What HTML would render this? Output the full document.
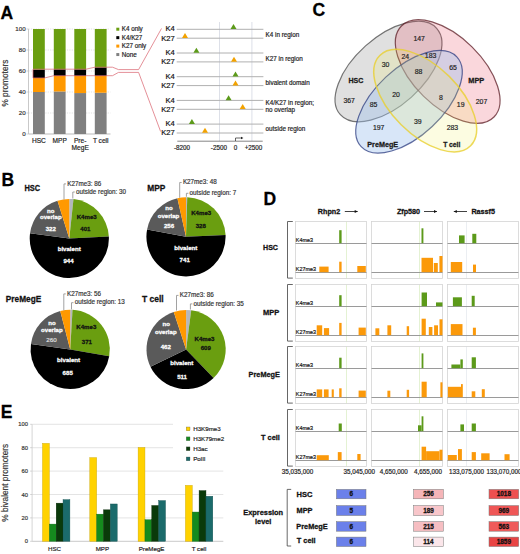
<!DOCTYPE html>
<html><head><meta charset="utf-8"><title>Figure</title>
<style>html,body{margin:0;padding:0;background:#fff;}body{width:520px;height:554px;overflow:hidden;font-family:"Liberation Sans",sans-serif;}svg{display:block;}</style>
</head><body>
<svg width="520" height="554" viewBox="0 0 520 554" font-family="Liberation Sans, sans-serif"><text x="0.60" y="18.60" font-size="17.5" text-anchor="start" font-weight="bold" fill="#000" stroke="#000" stroke-width="0.27" >A</text>
<text x="1.60" y="185.70" font-size="17.5" text-anchor="start" font-weight="bold" fill="#000" stroke="#000" stroke-width="0.27" >B</text>
<text x="312.60" y="15.60" font-size="17.5" text-anchor="start" font-weight="bold" fill="#000" stroke="#000" stroke-width="0.27" >C</text>
<text x="263.60" y="204.60" font-size="17.5" text-anchor="start" font-weight="bold" fill="#000" stroke="#000" stroke-width="0.27" >D</text>
<text x="0.80" y="417.60" font-size="17.5" text-anchor="start" font-weight="bold" fill="#000" stroke="#000" stroke-width="0.27" >E</text>
<line x1="28.50" y1="113.00" x2="110.50" y2="113.00" stroke="#cfcfcf" stroke-width="0.6" stroke-dasharray="1.2,1.2"/>
<line x1="28.50" y1="92.00" x2="110.50" y2="92.00" stroke="#cfcfcf" stroke-width="0.6" stroke-dasharray="1.2,1.2"/>
<line x1="28.50" y1="71.00" x2="110.50" y2="71.00" stroke="#cfcfcf" stroke-width="0.6" stroke-dasharray="1.2,1.2"/>
<line x1="28.50" y1="50.00" x2="110.50" y2="50.00" stroke="#cfcfcf" stroke-width="0.6" stroke-dasharray="1.2,1.2"/>
<line x1="28.50" y1="29.00" x2="110.50" y2="29.00" stroke="#cfcfcf" stroke-width="0.6" stroke-dasharray="1.2,1.2"/>
<line x1="28.50" y1="134.00" x2="110.50" y2="134.00" stroke="#aaa" stroke-width="0.8" />
<line x1="28.50" y1="134.00" x2="28.50" y2="29.00" stroke="#bbb" stroke-width="0.8" />
<line x1="26.50" y1="134.00" x2="28.50" y2="134.00" stroke="#bbb" stroke-width="0.6" />
<text x="25.60" y="136.22" font-size="6.2" text-anchor="end" font-weight="normal" fill="#333" stroke="#333" stroke-width="0.18" >0</text>
<line x1="26.50" y1="113.00" x2="28.50" y2="113.00" stroke="#bbb" stroke-width="0.6" />
<text x="25.60" y="115.22" font-size="6.2" text-anchor="end" font-weight="normal" fill="#333" stroke="#333" stroke-width="0.18" >20</text>
<line x1="26.50" y1="92.00" x2="28.50" y2="92.00" stroke="#bbb" stroke-width="0.6" />
<text x="25.60" y="94.22" font-size="6.2" text-anchor="end" font-weight="normal" fill="#333" stroke="#333" stroke-width="0.18" >40</text>
<line x1="26.50" y1="71.00" x2="28.50" y2="71.00" stroke="#bbb" stroke-width="0.6" />
<text x="25.60" y="73.22" font-size="6.2" text-anchor="end" font-weight="normal" fill="#333" stroke="#333" stroke-width="0.18" >60</text>
<line x1="26.50" y1="50.00" x2="28.50" y2="50.00" stroke="#bbb" stroke-width="0.6" />
<text x="25.60" y="52.22" font-size="6.2" text-anchor="end" font-weight="normal" fill="#333" stroke="#333" stroke-width="0.18" >80</text>
<line x1="26.50" y1="29.00" x2="28.50" y2="29.00" stroke="#bbb" stroke-width="0.6" />
<text x="25.60" y="31.22" font-size="6.2" text-anchor="end" font-weight="normal" fill="#333" stroke="#333" stroke-width="0.18" >100</text>
<text x="0.00" y="2.97" font-size="8.3" text-anchor="middle" font-weight="normal" fill="#333" stroke="#333" stroke-width="0.18" transform="translate(4.6,83.1) rotate(-90)">% promoters</text>
<rect x="33.00" y="92.00" width="11.80" height="42.00" fill="#808080" />
<rect x="33.00" y="78.03" width="11.80" height="13.97" fill="#ff9900" />
<rect x="33.00" y="69.53" width="11.80" height="8.50" fill="#000" />
<rect x="33.00" y="29.00" width="11.80" height="40.53" fill="#6a9e10" />
<rect x="53.80" y="91.47" width="11.80" height="42.53" fill="#808080" />
<rect x="53.80" y="75.83" width="11.80" height="15.64" fill="#ff9900" />
<rect x="53.80" y="69.32" width="11.80" height="6.51" fill="#000" />
<rect x="53.80" y="29.00" width="11.80" height="40.32" fill="#6a9e10" />
<rect x="74.30" y="93.05" width="11.80" height="40.95" fill="#808080" />
<rect x="74.30" y="75.83" width="11.80" height="17.22" fill="#ff9900" />
<rect x="74.30" y="69.32" width="11.80" height="6.51" fill="#000" />
<rect x="74.30" y="29.00" width="11.80" height="40.32" fill="#6a9e10" />
<rect x="94.80" y="92.73" width="11.80" height="41.27" fill="#808080" />
<rect x="94.80" y="75.83" width="11.80" height="16.91" fill="#ff9900" />
<rect x="94.80" y="67.33" width="11.80" height="8.50" fill="#000" />
<rect x="94.80" y="29.00" width="11.80" height="38.33" fill="#6a9e10" />
<text x="38.90" y="143.16" font-size="6.6" text-anchor="middle" font-weight="normal" fill="#222" stroke="#222" stroke-width="0.18" >HSC</text>
<text x="59.70" y="143.16" font-size="6.6" text-anchor="middle" font-weight="normal" fill="#222" stroke="#222" stroke-width="0.18" >MPP</text>
<text x="80.20" y="143.16" font-size="6.6" text-anchor="middle" font-weight="normal" fill="#222" stroke="#222" stroke-width="0.18" >Pre-</text>
<text x="100.70" y="143.16" font-size="6.6" text-anchor="middle" font-weight="normal" fill="#222" stroke="#222" stroke-width="0.18" >T cell</text>
<text x="80.20" y="149.56" font-size="6.6" text-anchor="middle" font-weight="normal" fill="#222" stroke="#222" stroke-width="0.18" >MegE</text>
<rect x="116.30" y="27.70" width="3.00" height="3.00" fill="#6a9e10" />
<text x="121.70" y="31.46" font-size="6.3" text-anchor="start" font-weight="normal" fill="#222" stroke="#222" stroke-width="0.18" >K4 only</text>
<rect x="116.30" y="36.15" width="3.00" height="3.00" fill="#000" />
<text x="121.70" y="39.91" font-size="6.3" text-anchor="start" font-weight="normal" fill="#222" stroke="#222" stroke-width="0.18" >K4/K27</text>
<rect x="116.30" y="44.60" width="3.00" height="3.00" fill="#ff9900" />
<text x="121.70" y="48.36" font-size="6.3" text-anchor="start" font-weight="normal" fill="#222" stroke="#222" stroke-width="0.18" >K27 only</text>
<rect x="116.30" y="53.05" width="3.00" height="3.00" fill="#808080" />
<text x="121.70" y="56.81" font-size="6.3" text-anchor="start" font-weight="normal" fill="#222" stroke="#222" stroke-width="0.18" >None</text>
<path d="M33,69.2 L44.8,69.2 L53.8,69.2 L65.6,69.2 L74.3,69.2 L86.1,69.2 L94.8,67.2 L106.6,67.2 L112.5,67.2 L118.5,69.6 L138.6,69.6 L161.5,28.5" fill="none" stroke="#d8606c" stroke-width="0.7"/>
<path d="M33,77.9 L44.8,77.9 L53.8,75.7 L65.6,75.7 L74.3,75.7 L86.1,75.7 L94.8,75.7 L106.6,75.7 L112.5,75.7 L118.5,72.4 L138.6,72.4 L160.6,131.5" fill="none" stroke="#d8606c" stroke-width="0.7"/>
<line x1="33.00" y1="69.20" x2="33.00" y2="77.90" stroke="#d8606c" stroke-width="0.7" />
<line x1="219.50" y1="22.00" x2="219.50" y2="141.00" stroke="#d4d8e2" stroke-width="0.8" />
<line x1="251.90" y1="22.00" x2="251.90" y2="141.00" stroke="#d4d8e2" stroke-width="0.8" />
<line x1="176.70" y1="29.30" x2="263.40" y2="29.30" stroke="#b0b0b0" stroke-width="1.0" />
<line x1="176.70" y1="38.20" x2="263.40" y2="38.20" stroke="#b0b0b0" stroke-width="1.0" />
<text x="174.80" y="31.42" font-size="7.6" text-anchor="end" font-weight="normal" fill="#111" stroke="#111" stroke-width="0.18" >K4</text>
<text x="174.80" y="40.52" font-size="7.6" text-anchor="end" font-weight="normal" fill="#111" stroke="#111" stroke-width="0.18" >K27</text>
<path d="M230.50,29.10 L236.50,29.10 L233.50,24.10 Z" fill="#5c9a1a"/>
<path d="M182.00,38.00 L188.00,38.00 L185.00,33.00 Z" fill="#f2a200"/>
<line x1="176.70" y1="53.00" x2="263.40" y2="53.00" stroke="#b0b0b0" stroke-width="1.0" />
<line x1="176.70" y1="61.90" x2="263.40" y2="61.90" stroke="#b0b0b0" stroke-width="1.0" />
<text x="174.80" y="55.12" font-size="7.6" text-anchor="end" font-weight="normal" fill="#111" stroke="#111" stroke-width="0.18" >K4</text>
<text x="174.80" y="64.22" font-size="7.6" text-anchor="end" font-weight="normal" fill="#111" stroke="#111" stroke-width="0.18" >K27</text>
<path d="M193.40,52.80 L199.40,52.80 L196.40,47.80 Z" fill="#5c9a1a"/>
<path d="M231.00,61.70 L237.00,61.70 L234.00,56.70 Z" fill="#f2a200"/>
<line x1="176.70" y1="76.70" x2="263.40" y2="76.70" stroke="#b0b0b0" stroke-width="1.0" />
<line x1="176.70" y1="85.60" x2="263.40" y2="85.60" stroke="#b0b0b0" stroke-width="1.0" />
<text x="174.80" y="78.82" font-size="7.6" text-anchor="end" font-weight="normal" fill="#111" stroke="#111" stroke-width="0.18" >K4</text>
<text x="174.80" y="87.92" font-size="7.6" text-anchor="end" font-weight="normal" fill="#111" stroke="#111" stroke-width="0.18" >K27</text>
<path d="M232.50,76.50 L238.50,76.50 L235.50,71.50 Z" fill="#5c9a1a"/>
<path d="M232.50,85.40 L238.50,85.40 L235.50,80.40 Z" fill="#f2a200"/>
<line x1="176.70" y1="100.40" x2="263.40" y2="100.40" stroke="#b0b0b0" stroke-width="1.0" />
<line x1="176.70" y1="109.30" x2="263.40" y2="109.30" stroke="#b0b0b0" stroke-width="1.0" />
<text x="174.80" y="102.52" font-size="7.6" text-anchor="end" font-weight="normal" fill="#111" stroke="#111" stroke-width="0.18" >K4</text>
<text x="174.80" y="111.62" font-size="7.6" text-anchor="end" font-weight="normal" fill="#111" stroke="#111" stroke-width="0.18" >K27</text>
<path d="M225.60,100.20 L231.60,100.20 L228.60,95.20 Z" fill="#5c9a1a"/>
<path d="M239.70,109.10 L245.70,109.10 L242.70,104.10 Z" fill="#f2a200"/>
<line x1="176.70" y1="124.10" x2="263.40" y2="124.10" stroke="#b0b0b0" stroke-width="1.0" />
<line x1="176.70" y1="133.00" x2="263.40" y2="133.00" stroke="#b0b0b0" stroke-width="1.0" />
<text x="174.80" y="126.22" font-size="7.6" text-anchor="end" font-weight="normal" fill="#111" stroke="#111" stroke-width="0.18" >K4</text>
<text x="174.80" y="135.32" font-size="7.6" text-anchor="end" font-weight="normal" fill="#111" stroke="#111" stroke-width="0.18" >K27</text>
<path d="M188.90,123.90 L194.90,123.90 L191.90,118.90 Z" fill="#5c9a1a"/>
<path d="M202.00,132.80 L208.00,132.80 L205.00,127.80 Z" fill="#f2a200"/>
<line x1="177.30" y1="141.20" x2="262.70" y2="141.20" stroke="#666" stroke-width="0.8" />
<text x="182.00" y="149.96" font-size="6.3" text-anchor="middle" font-weight="normal" fill="#222" stroke="#222" stroke-width="0.18" >-8200</text>
<text x="218.90" y="149.96" font-size="6.3" text-anchor="middle" font-weight="normal" fill="#222" stroke="#222" stroke-width="0.18" >-2500</text>
<text x="235.50" y="149.96" font-size="6.3" text-anchor="middle" font-weight="normal" fill="#222" stroke="#222" stroke-width="0.18" >0</text>
<text x="253.50" y="149.96" font-size="6.3" text-anchor="middle" font-weight="normal" fill="#222" stroke="#222" stroke-width="0.18" >+2500</text>
<path d="M235.5,141 L235.5,138 L241.5,138" fill="none" stroke="#222" stroke-width="0.7"/>
<path d="M241,136.8 L243.4,138 L241,139.2 Z" fill="#222"/>
<text x="265.60" y="36.76" font-size="6.3" text-anchor="start" font-weight="normal" fill="#222" stroke="#222" stroke-width="0.18" >K4 in region</text>
<text x="265.60" y="60.76" font-size="6.3" text-anchor="start" font-weight="normal" fill="#222" stroke="#222" stroke-width="0.18" >K27 in region</text>
<text x="265.60" y="84.56" font-size="6.3" text-anchor="start" font-weight="normal" fill="#222" stroke="#222" stroke-width="0.18" >bivalent domain</text>
<text x="265.60" y="104.76" font-size="6.3" text-anchor="start" font-weight="normal" fill="#222" stroke="#222" stroke-width="0.18" >K4/K27 in region;</text>
<text x="265.60" y="111.76" font-size="6.3" text-anchor="start" font-weight="normal" fill="#222" stroke="#222" stroke-width="0.18" >no overlap</text>
<text x="265.60" y="130.66" font-size="6.3" text-anchor="start" font-weight="normal" fill="#222" stroke="#222" stroke-width="0.18" >outside region</text>
<ellipse cx="388.5" cy="71.5" rx="64.7" ry="34.4" transform="rotate(-41.9 388.5 71.5)" fill="#8c8c8c" fill-opacity="0.27" stroke="#4a4a4a" stroke-width="1.2" stroke-opacity="0.75"/>
<ellipse cx="447.7" cy="71.5" rx="64.9" ry="34.6" transform="rotate(44.5 447.7 71.5)" fill="#e84960" fill-opacity="0.22" stroke="#5c1c24" stroke-width="1.2" stroke-opacity="0.75"/>
<ellipse cx="409.0" cy="101.8" rx="65.6" ry="33.9" transform="rotate(-43.2 409.0 101.8)" fill="#9dc0ed" fill-opacity="0.4" stroke="#2c3c80" stroke-width="1.2" stroke-opacity="0.75"/>
<ellipse cx="425.2" cy="100.6" rx="64.0" ry="34.1" transform="rotate(44.8 425.2 100.6)" fill="#eeee58" fill-opacity="0.18" stroke="#e8d030" stroke-width="1.5" stroke-opacity="0.8"/>
<text x="419.20" y="40.87" font-size="6.9" text-anchor="middle" font-weight="normal" fill="#222" stroke="#222" stroke-width="0.18" >147</text>
<text x="385.60" y="67.17" font-size="6.9" text-anchor="middle" font-weight="normal" fill="#222" stroke="#222" stroke-width="0.18" >30</text>
<text x="405.30" y="59.17" font-size="6.9" text-anchor="middle" font-weight="normal" fill="#222" stroke="#222" stroke-width="0.18" >24</text>
<text x="430.60" y="58.47" font-size="6.9" text-anchor="middle" font-weight="normal" fill="#222" stroke="#222" stroke-width="0.18" >183</text>
<text x="453.10" y="69.57" font-size="6.9" text-anchor="middle" font-weight="normal" fill="#222" stroke="#222" stroke-width="0.18" >65</text>
<text x="418.50" y="74.07" font-size="6.9" text-anchor="middle" font-weight="normal" fill="#222" stroke="#222" stroke-width="0.18" >88</text>
<text x="349.20" y="103.17" font-size="6.9" text-anchor="middle" font-weight="normal" fill="#222" stroke="#222" stroke-width="0.18" >367</text>
<text x="373.50" y="106.67" font-size="6.9" text-anchor="middle" font-weight="normal" fill="#222" stroke="#222" stroke-width="0.18" >85</text>
<text x="396.00" y="96.57" font-size="6.9" text-anchor="middle" font-weight="normal" fill="#222" stroke="#222" stroke-width="0.18" >20</text>
<text x="441.00" y="99.67" font-size="6.9" text-anchor="middle" font-weight="normal" fill="#222" stroke="#222" stroke-width="0.18" >8</text>
<text x="460.70" y="106.67" font-size="6.9" text-anchor="middle" font-weight="normal" fill="#222" stroke="#222" stroke-width="0.18" >19</text>
<text x="481.50" y="104.17" font-size="6.9" text-anchor="middle" font-weight="normal" fill="#222" stroke="#222" stroke-width="0.18" >207</text>
<text x="378.70" y="130.17" font-size="6.9" text-anchor="middle" font-weight="normal" fill="#222" stroke="#222" stroke-width="0.18" >197</text>
<text x="417.80" y="123.97" font-size="6.9" text-anchor="middle" font-weight="normal" fill="#222" stroke="#222" stroke-width="0.18" >39</text>
<text x="452.40" y="130.17" font-size="6.9" text-anchor="middle" font-weight="normal" fill="#222" stroke="#222" stroke-width="0.18" >283</text>
<text x="348.44" y="83.21" font-size="7.0" text-anchor="start" font-weight="bold" fill="#1a1a1a" stroke="#1a1a1a" stroke-width="0.27" textLength="14.86" lengthAdjust="spacingAndGlyphs" >HSC</text>
<text x="468.31" y="83.01" font-size="7.0" text-anchor="start" font-weight="bold" fill="#1a1a1a" stroke="#1a1a1a" stroke-width="0.27" textLength="15.94" lengthAdjust="spacingAndGlyphs" >MPP</text>
<text x="367.33" y="146.81" font-size="7.0" text-anchor="start" font-weight="bold" fill="#1a1a1a" stroke="#1a1a1a" stroke-width="0.27" textLength="30.76" lengthAdjust="spacingAndGlyphs" >PreMegE</text>
<text x="443.13" y="146.51" font-size="7.0" text-anchor="start" font-weight="bold" fill="#1a1a1a" stroke="#1a1a1a" stroke-width="0.27" textLength="17.24" lengthAdjust="spacingAndGlyphs" >T cell</text>
<path d="M69.30,238.50 L69.30,198.90 A39.6,39.6 0 0 1 73.48,199.12 Z" fill="#b3b7bd"/>
<path d="M69.30,238.50 L73.48,199.12 A39.6,39.6 0 0 1 108.85,236.44 Z" fill="#6a9e10"/>
<path d="M69.30,238.50 L108.85,236.44 A39.6,39.6 0 1 1 30.05,233.25 Z" fill="#000000"/>
<path d="M69.30,238.50 L30.05,233.25 A39.6,39.6 0 0 1 57.48,200.70 Z" fill="#5a5a5a"/>
<path d="M69.30,238.50 L57.48,200.70 A39.6,39.6 0 0 1 69.30,198.90 Z" fill="#ff9900"/>
<text x="24.41" y="190.82" font-size="8.5" text-anchor="start" font-weight="bold" fill="#111" stroke="#111" stroke-width="0.27" textLength="15.69" lengthAdjust="spacingAndGlyphs" >HSC</text>
<path d="M64.00,199.50 L64.00,183.90 L66.00,183.90" fill="none" stroke="#8a8a8a" stroke-width="0.8"/>
<path d="M72.80,198.50 L72.80,192.00 L74.80,192.00" fill="none" stroke="#8a8a8a" stroke-width="0.8"/>
<text x="67.20" y="185.66" font-size="6.3" text-anchor="start" font-weight="normal" fill="#333" stroke="#333" stroke-width="0.18" >K27me3: 86</text>
<text x="76.00" y="193.76" font-size="6.3" text-anchor="start" font-weight="normal" fill="#333" stroke="#333" stroke-width="0.18" >outside region: 30</text>
<text x="50.80" y="212.58" font-size="6.1" text-anchor="middle" font-weight="bold" fill="#fff" stroke="#fff" stroke-width="0.27" >no</text>
<text x="50.80" y="219.28" font-size="6.1" text-anchor="middle" font-weight="bold" fill="#fff" stroke="#fff" stroke-width="0.27" >overlap</text>
<text x="50.80" y="230.78" font-size="6.1" text-anchor="middle" font-weight="bold" fill="#fff" stroke="#fff" stroke-width="0.27" >322</text>
<text x="86.70" y="219.28" font-size="6.1" text-anchor="middle" font-weight="bold" fill="#111" stroke="#111" stroke-width="0.27" >K4me3</text>
<text x="85.40" y="230.78" font-size="6.1" text-anchor="middle" font-weight="bold" fill="#111" stroke="#111" stroke-width="0.27" >401</text>
<text x="69.20" y="250.98" font-size="6.1" text-anchor="middle" font-weight="bold" fill="#fff" stroke="#fff" stroke-width="0.27" >bivalent</text>
<text x="68.50" y="262.98" font-size="6.1" text-anchor="middle" font-weight="bold" fill="#fff" stroke="#fff" stroke-width="0.27" >944</text>
<path d="M186.00,236.80 L186.00,197.20 A39.6,39.6 0 0 1 187.26,197.22 Z" fill="#b3b7bd"/>
<path d="M186.00,236.80 L187.26,197.22 A39.6,39.6 0 0 1 225.56,235.00 Z" fill="#6a9e10"/>
<path d="M186.00,236.80 L225.56,235.00 A39.6,39.6 0 1 1 147.09,229.45 Z" fill="#000000"/>
<path d="M186.00,236.80 L147.09,229.45 A39.6,39.6 0 0 1 177.41,198.14 Z" fill="#5a5a5a"/>
<path d="M186.00,236.80 L177.41,198.14 A39.6,39.6 0 0 1 186.00,197.20 Z" fill="#ff9900"/>
<text x="147.20" y="190.82" font-size="8.5" text-anchor="start" font-weight="bold" fill="#111" stroke="#111" stroke-width="0.27" textLength="18.08" lengthAdjust="spacingAndGlyphs" >MPP</text>
<path d="M179.70,197.80 L179.70,182.50 L181.70,182.50" fill="none" stroke="#8a8a8a" stroke-width="0.8"/>
<path d="M186.40,196.80 L186.40,193.30 L188.40,193.30" fill="none" stroke="#8a8a8a" stroke-width="0.8"/>
<text x="182.90" y="184.26" font-size="6.3" text-anchor="start" font-weight="normal" fill="#333" stroke="#333" stroke-width="0.18" >K27me3: 48</text>
<text x="189.60" y="195.06" font-size="6.3" text-anchor="start" font-weight="normal" fill="#333" stroke="#333" stroke-width="0.18" >outside region: 7</text>
<text x="169.00" y="209.58" font-size="6.1" text-anchor="middle" font-weight="bold" fill="#fff" stroke="#fff" stroke-width="0.27" >no</text>
<text x="168.50" y="217.78" font-size="6.1" text-anchor="middle" font-weight="bold" fill="#fff" stroke="#fff" stroke-width="0.27" >overlap</text>
<text x="169.00" y="228.08" font-size="6.1" text-anchor="middle" font-weight="bold" fill="#fff" stroke="#fff" stroke-width="0.27" >256</text>
<text x="201.20" y="214.98" font-size="6.1" text-anchor="middle" font-weight="bold" fill="#111" stroke="#111" stroke-width="0.27" >K4me3</text>
<text x="200.80" y="228.08" font-size="6.1" text-anchor="middle" font-weight="bold" fill="#111" stroke="#111" stroke-width="0.27" >328</text>
<text x="185.80" y="249.98" font-size="6.1" text-anchor="middle" font-weight="bold" fill="#fff" stroke="#fff" stroke-width="0.27" >bivalent</text>
<text x="184.70" y="262.48" font-size="6.1" text-anchor="middle" font-weight="bold" fill="#fff" stroke="#fff" stroke-width="0.27" >741</text>
<path d="M70.20,349.40 L70.20,309.80 A39.6,39.6 0 0 1 72.53,309.87 Z" fill="#b3b7bd"/>
<path d="M70.20,349.40 L72.53,309.87 A39.6,39.6 0 0 1 109.22,356.15 Z" fill="#6a9e10"/>
<path d="M70.20,349.40 L109.22,356.15 A39.6,39.6 0 0 1 30.97,343.98 Z" fill="#000000"/>
<path d="M70.20,349.40 L30.97,343.98 A39.6,39.6 0 0 1 60.25,311.07 Z" fill="#5a5a5a"/>
<path d="M70.20,349.40 L60.25,311.07 A39.6,39.6 0 0 1 70.20,309.80 Z" fill="#ff9900"/>
<text x="5.85" y="301.82" font-size="8.5" text-anchor="start" font-weight="bold" fill="#111" stroke="#111" stroke-width="0.27" textLength="35.37" lengthAdjust="spacingAndGlyphs" >PreMegE</text>
<path d="M63.80,310.40 L63.80,293.90 L65.80,293.90" fill="none" stroke="#8a8a8a" stroke-width="0.8"/>
<path d="M71.50,309.40 L71.50,302.70 L73.50,302.70" fill="none" stroke="#8a8a8a" stroke-width="0.8"/>
<text x="67.00" y="295.66" font-size="6.3" text-anchor="start" font-weight="normal" fill="#333" stroke="#333" stroke-width="0.18" >K27me3: 56</text>
<text x="74.70" y="304.46" font-size="6.3" text-anchor="start" font-weight="normal" fill="#333" stroke="#333" stroke-width="0.18" >outside region: 13</text>
<text x="52.00" y="324.68" font-size="6.1" text-anchor="middle" font-weight="bold" fill="#fff" stroke="#fff" stroke-width="0.27" >no</text>
<text x="51.90" y="332.38" font-size="6.1" text-anchor="middle" font-weight="bold" fill="#fff" stroke="#fff" stroke-width="0.27" >overlap</text>
<text x="51.50" y="342.42" font-size="6.2" text-anchor="middle" font-weight="normal" fill="#e0e0e0" stroke="#e0e0e0" stroke-width="0.18" >260</text>
<text x="86.30" y="329.28" font-size="6.1" text-anchor="middle" font-weight="bold" fill="#111" stroke="#111" stroke-width="0.27" >K4me3</text>
<text x="86.90" y="343.88" font-size="6.1" text-anchor="middle" font-weight="bold" fill="#111" stroke="#111" stroke-width="0.27" >371</text>
<text x="68.60" y="361.98" font-size="6.1" text-anchor="middle" font-weight="bold" fill="#fff" stroke="#fff" stroke-width="0.27" >bivalent</text>
<text x="67.70" y="374.88" font-size="6.1" text-anchor="middle" font-weight="bold" fill="#fff" stroke="#fff" stroke-width="0.27" >685</text>
<path d="M186.10,349.50 L186.10,309.90 A39.6,39.6 0 0 1 191.20,310.23 Z" fill="#b3b7bd"/>
<path d="M186.10,349.50 L191.20,310.23 A39.6,39.6 0 0 1 213.54,378.05 Z" fill="#6a9e10"/>
<path d="M186.10,349.50 L213.54,378.05 A39.6,39.6 0 0 1 150.46,366.76 Z" fill="#000000"/>
<path d="M186.10,349.50 L150.46,366.76 A39.6,39.6 0 0 1 173.74,311.88 Z" fill="#5a5a5a"/>
<path d="M186.10,349.50 L173.74,311.88 A39.6,39.6 0 0 1 186.10,309.90 Z" fill="#ff9900"/>
<text x="141.91" y="302.02" font-size="8.5" text-anchor="start" font-weight="bold" fill="#111" stroke="#111" stroke-width="0.27" textLength="21.79" lengthAdjust="spacingAndGlyphs" >T cell</text>
<path d="M176.50,310.50 L176.50,295.40 L178.50,295.40" fill="none" stroke="#8a8a8a" stroke-width="0.8"/>
<path d="M190.40,309.50 L190.40,303.90 L192.40,303.90" fill="none" stroke="#8a8a8a" stroke-width="0.8"/>
<text x="179.70" y="297.16" font-size="6.3" text-anchor="start" font-weight="normal" fill="#333" stroke="#333" stroke-width="0.18" >K27me3: 86</text>
<text x="193.60" y="305.66" font-size="6.3" text-anchor="start" font-weight="normal" fill="#333" stroke="#333" stroke-width="0.18" >outside region: 35</text>
<text x="166.20" y="326.18" font-size="6.1" text-anchor="middle" font-weight="bold" fill="#fff" stroke="#fff" stroke-width="0.27" >no</text>
<text x="165.80" y="334.38" font-size="6.1" text-anchor="middle" font-weight="bold" fill="#fff" stroke="#fff" stroke-width="0.27" >overlap</text>
<text x="165.80" y="348.98" font-size="6.1" text-anchor="middle" font-weight="bold" fill="#fff" stroke="#fff" stroke-width="0.27" >462</text>
<text x="204.50" y="340.78" font-size="6.1" text-anchor="middle" font-weight="bold" fill="#111" stroke="#111" stroke-width="0.27" >K4me3</text>
<text x="205.80" y="349.78" font-size="6.1" text-anchor="middle" font-weight="bold" fill="#111" stroke="#111" stroke-width="0.27" >609</text>
<text x="181.80" y="365.28" font-size="6.1" text-anchor="middle" font-weight="bold" fill="#fff" stroke="#fff" stroke-width="0.27" >bivalent</text>
<text x="182.10" y="379.18" font-size="6.1" text-anchor="middle" font-weight="bold" fill="#fff" stroke="#fff" stroke-width="0.27" >511</text>
<text x="329.00" y="214.08" font-size="7.2" text-anchor="middle" font-weight="bold" fill="#111" stroke="#111" stroke-width="0.27" >Rhpn2</text>
<text x="408.50" y="214.08" font-size="7.2" text-anchor="middle" font-weight="bold" fill="#111" stroke="#111" stroke-width="0.27" >Zfp580</text>
<line x1="344.80" y1="211.50" x2="357.70" y2="211.50" stroke="#111" stroke-width="0.8" />
<path d="M357.70,211.50 L354.70,210.00 L354.70,213.00 Z" fill="#111"/>
<line x1="424.00" y1="211.50" x2="437.00" y2="211.50" stroke="#111" stroke-width="0.8" />
<path d="M437.00,211.50 L434.00,210.00 L434.00,213.00 Z" fill="#111"/>
<line x1="467.00" y1="211.50" x2="453.80" y2="211.50" stroke="#111" stroke-width="0.8" />
<path d="M453.80,211.50 L456.80,210.00 L456.80,213.00 Z" fill="#111"/>
<text x="471.40" y="214.08" font-size="7.2" text-anchor="start" font-weight="bold" fill="#111" stroke="#111" stroke-width="0.27" >Rassf5</text>
<text x="263.03" y="250.38" font-size="7.2" text-anchor="start" font-weight="bold" fill="#111" stroke="#111" stroke-width="0.27" textLength="14.96" lengthAdjust="spacingAndGlyphs" >HSC</text>
<path d="M292.8,221.50 L287.5,221.50 L287.5,278.10 L292.8,278.10" fill="none" stroke="#555" stroke-width="0.9"/>
<line x1="346.50" y1="221.50" x2="346.50" y2="278.50" stroke="#d8ecc0" stroke-width="0.7" />
<line x1="419.50" y1="221.50" x2="419.50" y2="278.50" stroke="#d8ecc0" stroke-width="0.7" />
<line x1="466.50" y1="221.50" x2="466.50" y2="278.50" stroke="#e2e6ec" stroke-width="0.7" />
<rect x="295.50" y="221.50" width="71.00" height="57.00" fill="none" stroke="#d4d4d4" stroke-width="0.8"/>
<line x1="295.50" y1="243.50" x2="366.50" y2="243.50" stroke="#8e8e8e" stroke-width="0.9" />
<line x1="295.50" y1="272.50" x2="366.50" y2="272.50" stroke="#8e8e8e" stroke-width="0.9" />
<rect x="371.50" y="221.50" width="71.00" height="57.00" fill="none" stroke="#d4d4d4" stroke-width="0.8"/>
<line x1="371.50" y1="243.50" x2="442.50" y2="243.50" stroke="#8e8e8e" stroke-width="0.9" />
<line x1="371.50" y1="272.50" x2="442.50" y2="272.50" stroke="#8e8e8e" stroke-width="0.9" />
<rect x="447.50" y="221.50" width="71.00" height="57.00" fill="none" stroke="#d4d4d4" stroke-width="0.8"/>
<line x1="447.50" y1="243.50" x2="518.50" y2="243.50" stroke="#8e8e8e" stroke-width="0.9" />
<line x1="447.50" y1="272.50" x2="518.50" y2="272.50" stroke="#8e8e8e" stroke-width="0.9" />
<text x="295.80" y="241.90" font-size="5.4" text-anchor="start" font-weight="normal" fill="#111" stroke="#111" stroke-width="0.18" >K4me3</text>
<text x="295.80" y="270.90" font-size="5.4" text-anchor="start" font-weight="normal" fill="#111" stroke="#111" stroke-width="0.18" >K27me3</text>
<text x="262.91" y="315.28" font-size="7.2" text-anchor="start" font-weight="bold" fill="#111" stroke="#111" stroke-width="0.27" textLength="16.25" lengthAdjust="spacingAndGlyphs" >MPP</text>
<path d="M292.8,284.50 L287.5,284.50 L287.5,341.10 L292.8,341.10" fill="none" stroke="#555" stroke-width="0.9"/>
<line x1="346.50" y1="284.50" x2="346.50" y2="341.50" stroke="#d8ecc0" stroke-width="0.7" />
<line x1="419.50" y1="284.50" x2="419.50" y2="341.50" stroke="#d8ecc0" stroke-width="0.7" />
<line x1="466.50" y1="284.50" x2="466.50" y2="341.50" stroke="#e2e6ec" stroke-width="0.7" />
<rect x="295.50" y="284.50" width="71.00" height="57.00" fill="none" stroke="#d4d4d4" stroke-width="0.8"/>
<line x1="295.50" y1="306.50" x2="366.50" y2="306.50" stroke="#8e8e8e" stroke-width="0.9" />
<line x1="295.50" y1="335.50" x2="366.50" y2="335.50" stroke="#8e8e8e" stroke-width="0.9" />
<rect x="371.50" y="284.50" width="71.00" height="57.00" fill="none" stroke="#d4d4d4" stroke-width="0.8"/>
<line x1="371.50" y1="306.50" x2="442.50" y2="306.50" stroke="#8e8e8e" stroke-width="0.9" />
<line x1="371.50" y1="335.50" x2="442.50" y2="335.50" stroke="#8e8e8e" stroke-width="0.9" />
<rect x="447.50" y="284.50" width="71.00" height="57.00" fill="none" stroke="#d4d4d4" stroke-width="0.8"/>
<line x1="447.50" y1="306.50" x2="518.50" y2="306.50" stroke="#8e8e8e" stroke-width="0.9" />
<line x1="447.50" y1="335.50" x2="518.50" y2="335.50" stroke="#8e8e8e" stroke-width="0.9" />
<text x="295.80" y="304.90" font-size="5.4" text-anchor="start" font-weight="normal" fill="#111" stroke="#111" stroke-width="0.18" >K4me3</text>
<text x="295.80" y="333.90" font-size="5.4" text-anchor="start" font-weight="normal" fill="#111" stroke="#111" stroke-width="0.18" >K27me3</text>
<text x="248.62" y="377.18" font-size="7.2" text-anchor="start" font-weight="bold" fill="#111" stroke="#111" stroke-width="0.27" textLength="31.27" lengthAdjust="spacingAndGlyphs" >PreMegE</text>
<path d="M292.8,346.50 L287.5,346.50 L287.5,403.10 L292.8,403.10" fill="none" stroke="#555" stroke-width="0.9"/>
<line x1="346.50" y1="346.50" x2="346.50" y2="403.50" stroke="#d8ecc0" stroke-width="0.7" />
<line x1="419.50" y1="346.50" x2="419.50" y2="403.50" stroke="#d8ecc0" stroke-width="0.7" />
<line x1="466.50" y1="346.50" x2="466.50" y2="403.50" stroke="#e2e6ec" stroke-width="0.7" />
<rect x="295.50" y="346.50" width="71.00" height="57.00" fill="none" stroke="#d4d4d4" stroke-width="0.8"/>
<line x1="295.50" y1="368.50" x2="366.50" y2="368.50" stroke="#8e8e8e" stroke-width="0.9" />
<line x1="295.50" y1="397.50" x2="366.50" y2="397.50" stroke="#8e8e8e" stroke-width="0.9" />
<rect x="371.50" y="346.50" width="71.00" height="57.00" fill="none" stroke="#d4d4d4" stroke-width="0.8"/>
<line x1="371.50" y1="368.50" x2="442.50" y2="368.50" stroke="#8e8e8e" stroke-width="0.9" />
<line x1="371.50" y1="397.50" x2="442.50" y2="397.50" stroke="#8e8e8e" stroke-width="0.9" />
<rect x="447.50" y="346.50" width="71.00" height="57.00" fill="none" stroke="#d4d4d4" stroke-width="0.8"/>
<line x1="447.50" y1="368.50" x2="518.50" y2="368.50" stroke="#8e8e8e" stroke-width="0.9" />
<line x1="447.50" y1="397.50" x2="518.50" y2="397.50" stroke="#8e8e8e" stroke-width="0.9" />
<text x="295.80" y="366.90" font-size="5.4" text-anchor="start" font-weight="normal" fill="#111" stroke="#111" stroke-width="0.18" >K4me3</text>
<text x="295.80" y="395.90" font-size="5.4" text-anchor="start" font-weight="normal" fill="#111" stroke="#111" stroke-width="0.18" >K27me3</text>
<text x="261.02" y="440.18" font-size="7.2" text-anchor="start" font-weight="bold" fill="#111" stroke="#111" stroke-width="0.27" textLength="18.79" lengthAdjust="spacingAndGlyphs" >T cell</text>
<path d="M292.8,409.50 L287.5,409.50 L287.5,466.10 L292.8,466.10" fill="none" stroke="#555" stroke-width="0.9"/>
<line x1="346.50" y1="409.50" x2="346.50" y2="466.50" stroke="#d8ecc0" stroke-width="0.7" />
<line x1="419.50" y1="409.50" x2="419.50" y2="466.50" stroke="#d8ecc0" stroke-width="0.7" />
<line x1="466.50" y1="409.50" x2="466.50" y2="466.50" stroke="#e2e6ec" stroke-width="0.7" />
<rect x="295.50" y="409.50" width="71.00" height="57.00" fill="none" stroke="#d4d4d4" stroke-width="0.8"/>
<line x1="295.50" y1="431.50" x2="366.50" y2="431.50" stroke="#8e8e8e" stroke-width="0.9" />
<line x1="295.50" y1="460.50" x2="366.50" y2="460.50" stroke="#8e8e8e" stroke-width="0.9" />
<rect x="371.50" y="409.50" width="71.00" height="57.00" fill="none" stroke="#d4d4d4" stroke-width="0.8"/>
<line x1="371.50" y1="431.50" x2="442.50" y2="431.50" stroke="#8e8e8e" stroke-width="0.9" />
<line x1="371.50" y1="460.50" x2="442.50" y2="460.50" stroke="#8e8e8e" stroke-width="0.9" />
<rect x="447.50" y="409.50" width="71.00" height="57.00" fill="none" stroke="#d4d4d4" stroke-width="0.8"/>
<line x1="447.50" y1="431.50" x2="518.50" y2="431.50" stroke="#8e8e8e" stroke-width="0.9" />
<line x1="447.50" y1="460.50" x2="518.50" y2="460.50" stroke="#8e8e8e" stroke-width="0.9" />
<text x="295.80" y="429.90" font-size="5.4" text-anchor="start" font-weight="normal" fill="#111" stroke="#111" stroke-width="0.18" >K4me3</text>
<text x="295.80" y="458.90" font-size="5.4" text-anchor="start" font-weight="normal" fill="#111" stroke="#111" stroke-width="0.18" >K27me3</text>
<rect x="339.20" y="230.20" width="2.40" height="13.00" fill="#5c9a1a" />
<rect x="319.30" y="266.60" width="9.30" height="5.60" fill="#fb990a" />
<rect x="339.20" y="261.70" width="2.40" height="10.50" fill="#fb990a" />
<rect x="357.30" y="266.00" width="8.50" height="6.20" fill="#fb990a" />
<rect x="421.50" y="228.30" width="1.90" height="14.90" fill="#5c9a1a" />
<rect x="421.50" y="257.80" width="11.50" height="14.40" fill="#fb990a" />
<rect x="433.80" y="263.00" width="4.00" height="9.20" fill="#fb990a" />
<rect x="439.40" y="256.00" width="3.10" height="16.20" fill="#fb990a" />
<rect x="459.00" y="235.40" width="5.60" height="7.80" fill="#5c9a1a" />
<rect x="472.30" y="233.80" width="4.00" height="9.40" fill="#5c9a1a" />
<rect x="450.80" y="262.00" width="11.40" height="10.20" fill="#fb990a" />
<rect x="473.00" y="264.60" width="3.00" height="7.60" fill="#fb990a" />
<rect x="339.20" y="295.20" width="2.40" height="11.00" fill="#5c9a1a" />
<rect x="316.70" y="325.30" width="5.50" height="9.90" fill="#fb990a" />
<rect x="323.90" y="328.10" width="5.20" height="7.10" fill="#fb990a" />
<rect x="339.20" y="322.90" width="2.40" height="12.30" fill="#fb990a" />
<rect x="358.60" y="327.60" width="7.20" height="7.60" fill="#fb990a" />
<rect x="421.60" y="292.50" width="5.40" height="13.70" fill="#5c9a1a" />
<rect x="436.00" y="302.40" width="6.50" height="3.80" fill="#5c9a1a" />
<rect x="375.40" y="328.30" width="3.90" height="6.90" fill="#fb990a" />
<rect x="387.40" y="325.30" width="3.80" height="9.90" fill="#fb990a" />
<rect x="406.70" y="326.20" width="2.40" height="9.00" fill="#fb990a" />
<rect x="421.60" y="318.70" width="4.20" height="16.50" fill="#fb990a" />
<rect x="428.80" y="327.00" width="3.60" height="8.20" fill="#fb990a" />
<rect x="434.10" y="325.30" width="3.90" height="9.90" fill="#fb990a" />
<rect x="439.50" y="319.30" width="3.00" height="15.90" fill="#fb990a" />
<rect x="452.90" y="297.30" width="9.00" height="8.90" fill="#5c9a1a" />
<rect x="471.70" y="295.80" width="3.00" height="10.40" fill="#5c9a1a" />
<rect x="450.80" y="324.10" width="11.70" height="11.10" fill="#fb990a" />
<rect x="472.90" y="327.70" width="3.00" height="7.50" fill="#fb990a" />
<rect x="339.20" y="357.70" width="2.40" height="10.50" fill="#5c9a1a" />
<rect x="316.70" y="389.40" width="5.50" height="7.80" fill="#fb990a" />
<rect x="323.90" y="389.40" width="4.70" height="7.80" fill="#fb990a" />
<rect x="331.70" y="389.40" width="2.10" height="7.80" fill="#fb990a" />
<rect x="339.20" y="388.30" width="2.40" height="8.90" fill="#fb990a" />
<rect x="358.60" y="390.60" width="7.20" height="6.60" fill="#fb990a" />
<rect x="421.60" y="353.40" width="1.80" height="14.80" fill="#5c9a1a" />
<rect x="387.40" y="390.70" width="2.90" height="6.50" fill="#fb990a" />
<rect x="406.70" y="389.80" width="2.40" height="7.40" fill="#fb990a" />
<rect x="421.60" y="381.70" width="5.10" height="15.50" fill="#fb990a" />
<rect x="440.40" y="382.30" width="2.10" height="14.90" fill="#fb990a" />
<rect x="451.40" y="364.50" width="9.00" height="3.70" fill="#5c9a1a" />
<rect x="460.40" y="359.40" width="2.40" height="8.80" fill="#5c9a1a" />
<rect x="471.70" y="357.30" width="4.20" height="10.90" fill="#5c9a1a" />
<rect x="447.90" y="386.80" width="13.10" height="10.40" fill="#fb990a" />
<rect x="461.00" y="384.10" width="1.80" height="13.10" fill="#fb990a" />
<rect x="471.70" y="391.30" width="3.60" height="5.90" fill="#fb990a" />
<rect x="481.80" y="389.20" width="3.00" height="8.00" fill="#fb990a" />
<rect x="338.70" y="423.50" width="3.10" height="7.70" fill="#5c9a1a" />
<rect x="316.70" y="455.20" width="12.10" height="5.00" fill="#fb990a" />
<rect x="337.80" y="452.10" width="3.80" height="8.10" fill="#fb990a" />
<rect x="357.30" y="454.00" width="3.30" height="6.20" fill="#fb990a" />
<rect x="418.00" y="425.30" width="3.60" height="5.90" fill="#5c9a1a" />
<rect x="421.60" y="416.30" width="1.80" height="14.90" fill="#5c9a1a" />
<rect x="421.60" y="446.70" width="4.50" height="13.50" fill="#fb990a" />
<rect x="426.10" y="451.20" width="13.40" height="9.00" fill="#fb990a" />
<rect x="439.50" y="449.70" width="3.00" height="10.50" fill="#fb990a" />
<rect x="460.40" y="424.40" width="3.60" height="6.80" fill="#5c9a1a" />
<rect x="471.70" y="423.50" width="4.20" height="7.70" fill="#5c9a1a" />
<rect x="447.90" y="455.00" width="8.90" height="5.20" fill="#fb990a" />
<rect x="458.00" y="449.10" width="3.90" height="11.10" fill="#fb990a" />
<rect x="471.70" y="452.10" width="4.20" height="8.10" fill="#fb990a" />
<rect x="481.20" y="453.30" width="8.40" height="6.90" fill="#fb990a" />
<rect x="504.50" y="454.20" width="5.10" height="6.00" fill="#fb990a" />
<text x="297.40" y="474.26" font-size="6.3" text-anchor="middle" font-weight="normal" fill="#222" stroke="#222" stroke-width="0.18" >35,035,000</text>
<text x="359.15" y="474.26" font-size="6.3" text-anchor="middle" font-weight="normal" fill="#222" stroke="#222" stroke-width="0.18" >35,045,000</text>
<text x="393.80" y="474.26" font-size="6.3" text-anchor="middle" font-weight="normal" fill="#222" stroke="#222" stroke-width="0.18" >4,650,000</text>
<text x="428.10" y="474.26" font-size="6.3" text-anchor="middle" font-weight="normal" fill="#222" stroke="#222" stroke-width="0.18" >4,655,000</text>
<text x="466.60" y="474.26" font-size="6.3" text-anchor="middle" font-weight="normal" fill="#222" stroke="#222" stroke-width="0.18" >133,075,000</text>
<text x="504.10" y="474.26" font-size="6.3" text-anchor="middle" font-weight="normal" fill="#222" stroke="#222" stroke-width="0.18" >133,070,000</text>
<text x="263.20" y="515.45" font-size="7.4" text-anchor="middle" font-weight="bold" fill="#111" stroke="#111" stroke-width="0.27" >Expression</text>
<text x="263.20" y="524.35" font-size="7.4" text-anchor="middle" font-weight="bold" fill="#111" stroke="#111" stroke-width="0.27" >level</text>
<path d="M291.2,489.4 L287.2,489.4 L287.2,546 L291.2,546" fill="none" stroke="#444" stroke-width="0.8"/>
<text x="296.50" y="497.18" font-size="7.2" text-anchor="start" font-weight="bold" fill="#111" stroke="#111" stroke-width="0.27" textLength="15.90" lengthAdjust="spacingAndGlyphs" >HSC</text>
<text x="296.51" y="512.88" font-size="7.2" text-anchor="start" font-weight="bold" fill="#111" stroke="#111" stroke-width="0.27" textLength="15.94" lengthAdjust="spacingAndGlyphs" >MPP</text>
<text x="296.31" y="529.18" font-size="7.2" text-anchor="start" font-weight="bold" fill="#111" stroke="#111" stroke-width="0.27" textLength="31.47" lengthAdjust="spacingAndGlyphs" >PreMegE</text>
<text x="296.72" y="543.48" font-size="7.2" text-anchor="start" font-weight="bold" fill="#111" stroke="#111" stroke-width="0.27" textLength="18.90" lengthAdjust="spacingAndGlyphs" >T cell</text>
<rect x="336.4" y="489.4" width="29.60" height="9.40" fill="#6b80ea" stroke="#777" stroke-width="0.5"/>
<text x="351.20" y="496.39" font-size="6.4" text-anchor="middle" font-weight="bold" fill="#111" stroke="#111" stroke-width="0.27" >6</text>
<rect x="413.7" y="489.4" width="29.60" height="9.40" fill="#f5b5b8" stroke="#777" stroke-width="0.5"/>
<text x="428.50" y="496.39" font-size="6.4" text-anchor="middle" font-weight="bold" fill="#111" stroke="#111" stroke-width="0.27" >256</text>
<rect x="489" y="489.4" width="29.70" height="9.40" fill="#ee5050" stroke="#777" stroke-width="0.5"/>
<text x="503.85" y="496.39" font-size="6.4" text-anchor="middle" font-weight="bold" fill="#111" stroke="#111" stroke-width="0.27" >1018</text>
<rect x="336.4" y="505.6" width="29.60" height="9.90" fill="#6b80ea" stroke="#777" stroke-width="0.5"/>
<text x="351.20" y="512.84" font-size="6.4" text-anchor="middle" font-weight="bold" fill="#111" stroke="#111" stroke-width="0.27" >5</text>
<rect x="413.7" y="505.6" width="29.60" height="9.90" fill="#f8c6ca" stroke="#777" stroke-width="0.5"/>
<text x="428.50" y="512.84" font-size="6.4" text-anchor="middle" font-weight="bold" fill="#111" stroke="#111" stroke-width="0.27" >189</text>
<rect x="489" y="505.6" width="29.70" height="9.90" fill="#ef5656" stroke="#777" stroke-width="0.5"/>
<text x="503.85" y="512.84" font-size="6.4" text-anchor="middle" font-weight="bold" fill="#111" stroke="#111" stroke-width="0.27" >969</text>
<rect x="336.4" y="521.7" width="29.60" height="9.50" fill="#6b80ea" stroke="#777" stroke-width="0.5"/>
<text x="351.20" y="528.74" font-size="6.4" text-anchor="middle" font-weight="bold" fill="#111" stroke="#111" stroke-width="0.27" >6</text>
<rect x="413.7" y="521.7" width="29.60" height="9.50" fill="#f6bec2" stroke="#777" stroke-width="0.5"/>
<text x="428.50" y="528.74" font-size="6.4" text-anchor="middle" font-weight="bold" fill="#111" stroke="#111" stroke-width="0.27" >215</text>
<rect x="489" y="521.7" width="29.70" height="9.50" fill="#ef5a5a" stroke="#777" stroke-width="0.5"/>
<text x="503.85" y="528.74" font-size="6.4" text-anchor="middle" font-weight="bold" fill="#111" stroke="#111" stroke-width="0.27" >563</text>
<rect x="336.4" y="537.1" width="29.60" height="9.40" fill="#6b80ea" stroke="#777" stroke-width="0.5"/>
<text x="351.20" y="544.09" font-size="6.4" text-anchor="middle" font-weight="bold" fill="#111" stroke="#111" stroke-width="0.27" >6</text>
<rect x="413.7" y="537.1" width="29.60" height="9.40" fill="#fbe6ea" stroke="#777" stroke-width="0.5"/>
<text x="428.50" y="544.09" font-size="6.4" text-anchor="middle" font-weight="bold" fill="#111" stroke="#111" stroke-width="0.27" >114</text>
<rect x="489" y="537.1" width="29.70" height="9.40" fill="#e84444" stroke="#777" stroke-width="0.5"/>
<text x="503.85" y="544.09" font-size="6.4" text-anchor="middle" font-weight="bold" fill="#111" stroke="#111" stroke-width="0.27" >1859</text>
<line x1="32.10" y1="517.90" x2="223.30" y2="517.90" stroke="#d8d8d8" stroke-width="0.7" />
<line x1="32.10" y1="494.50" x2="223.30" y2="494.50" stroke="#d8d8d8" stroke-width="0.7" />
<line x1="32.10" y1="471.10" x2="223.30" y2="471.10" stroke="#d8d8d8" stroke-width="0.7" />
<line x1="32.10" y1="447.70" x2="173.00" y2="447.70" stroke="#d8d8d8" stroke-width="0.7" />
<line x1="32.10" y1="424.30" x2="173.00" y2="424.30" stroke="#d8d8d8" stroke-width="0.7" />
<line x1="32.10" y1="541.30" x2="223.30" y2="541.30" stroke="#bbb" stroke-width="0.8" />
<line x1="32.10" y1="541.30" x2="32.10" y2="424.30" stroke="#ccc" stroke-width="0.8" />
<line x1="30.10" y1="541.30" x2="32.10" y2="541.30" stroke="#bbb" stroke-width="0.6" />
<text x="28.00" y="543.38" font-size="5.8" text-anchor="end" font-weight="normal" fill="#333" stroke="#333" stroke-width="0.18" >0</text>
<line x1="30.10" y1="517.90" x2="32.10" y2="517.90" stroke="#bbb" stroke-width="0.6" />
<text x="28.00" y="519.98" font-size="5.8" text-anchor="end" font-weight="normal" fill="#333" stroke="#333" stroke-width="0.18" >20</text>
<line x1="30.10" y1="494.50" x2="32.10" y2="494.50" stroke="#bbb" stroke-width="0.6" />
<text x="28.00" y="496.58" font-size="5.8" text-anchor="end" font-weight="normal" fill="#333" stroke="#333" stroke-width="0.18" >40</text>
<line x1="30.10" y1="471.10" x2="32.10" y2="471.10" stroke="#bbb" stroke-width="0.6" />
<text x="28.00" y="473.18" font-size="5.8" text-anchor="end" font-weight="normal" fill="#333" stroke="#333" stroke-width="0.18" >60</text>
<line x1="30.10" y1="447.70" x2="32.10" y2="447.70" stroke="#bbb" stroke-width="0.6" />
<text x="28.00" y="449.78" font-size="5.8" text-anchor="end" font-weight="normal" fill="#333" stroke="#333" stroke-width="0.18" >80</text>
<line x1="30.10" y1="424.30" x2="32.10" y2="424.30" stroke="#bbb" stroke-width="0.6" />
<text x="28.00" y="426.38" font-size="5.8" text-anchor="end" font-weight="normal" fill="#333" stroke="#333" stroke-width="0.18" >100</text>
<text x="0.00" y="2.97" font-size="8.3" text-anchor="middle" font-weight="normal" fill="#333" stroke="#333" stroke-width="0.18" transform="translate(5.1,482.8) rotate(-90)">% bivalent promoters</text>
<rect x="42.50" y="443.37" width="6.85" height="97.93" fill="#ffd200" stroke="#c9a400" stroke-width="0.4"/>
<rect x="49.35" y="524.10" width="6.85" height="17.20" fill="#158a1e" stroke="#0d6a14" stroke-width="0.4"/>
<rect x="56.20" y="503.16" width="6.85" height="38.14" fill="#0a3a0a" stroke="#052505" stroke-width="0.4"/>
<rect x="63.05" y="499.65" width="6.85" height="41.65" fill="#1b6b6b" stroke="#125050" stroke-width="0.4"/>
<rect x="89.80" y="457.64" width="6.85" height="83.66" fill="#ffd200" stroke="#c9a400" stroke-width="0.4"/>
<rect x="96.65" y="514.16" width="6.85" height="27.14" fill="#158a1e" stroke="#0d6a14" stroke-width="0.4"/>
<rect x="103.50" y="509.83" width="6.85" height="31.47" fill="#0a3a0a" stroke="#052505" stroke-width="0.4"/>
<rect x="110.35" y="503.98" width="6.85" height="37.32" fill="#1b6b6b" stroke="#125050" stroke-width="0.4"/>
<rect x="138.10" y="447.47" width="6.85" height="93.83" fill="#ffd200" stroke="#c9a400" stroke-width="0.4"/>
<rect x="144.95" y="519.77" width="6.85" height="21.53" fill="#158a1e" stroke="#0d6a14" stroke-width="0.4"/>
<rect x="151.80" y="505.50" width="6.85" height="35.80" fill="#0a3a0a" stroke="#052505" stroke-width="0.4"/>
<rect x="158.65" y="500.58" width="6.85" height="40.72" fill="#1b6b6b" stroke="#125050" stroke-width="0.4"/>
<rect x="185.40" y="485.37" width="6.85" height="55.93" fill="#ffd200" stroke="#c9a400" stroke-width="0.4"/>
<rect x="192.25" y="512.05" width="6.85" height="29.25" fill="#158a1e" stroke="#0d6a14" stroke-width="0.4"/>
<rect x="199.10" y="490.64" width="6.85" height="50.66" fill="#0a3a0a" stroke="#052505" stroke-width="0.4"/>
<rect x="205.95" y="496.25" width="6.85" height="45.04" fill="#1b6b6b" stroke="#125050" stroke-width="0.4"/>
<text x="54.50" y="550.82" font-size="6.2" text-anchor="middle" font-weight="normal" fill="#222" stroke="#222" stroke-width="0.18" >HSC</text>
<text x="102.40" y="550.82" font-size="6.2" text-anchor="middle" font-weight="normal" fill="#222" stroke="#222" stroke-width="0.18" >MPP</text>
<text x="151.60" y="550.82" font-size="6.2" text-anchor="middle" font-weight="normal" fill="#222" stroke="#222" stroke-width="0.18" >PreMegE</text>
<text x="199.00" y="550.82" font-size="6.2" text-anchor="middle" font-weight="normal" fill="#222" stroke="#222" stroke-width="0.18" >T cell</text>
<rect x="186.2" y="427.00" width="3.8" height="3.8" fill="#ffd200" stroke="#555" stroke-width="0.3"/>
<text x="193.20" y="431.12" font-size="6.2" text-anchor="start" font-weight="normal" fill="#222" stroke="#222" stroke-width="0.18" >H3K9me3</text>
<rect x="186.2" y="436.90" width="3.8" height="3.8" fill="#158a1e" stroke="#555" stroke-width="0.3"/>
<text x="193.20" y="441.02" font-size="6.2" text-anchor="start" font-weight="normal" fill="#222" stroke="#222" stroke-width="0.18" >H3K79me2</text>
<rect x="186.2" y="446.90" width="3.8" height="3.8" fill="#0a3a0a" stroke="#555" stroke-width="0.3"/>
<text x="193.20" y="451.02" font-size="6.2" text-anchor="start" font-weight="normal" fill="#222" stroke="#222" stroke-width="0.18" >H3ac</text>
<rect x="186.2" y="457.00" width="3.8" height="3.8" fill="#1b6b6b" stroke="#555" stroke-width="0.3"/>
<text x="193.20" y="461.12" font-size="6.2" text-anchor="start" font-weight="normal" fill="#222" stroke="#222" stroke-width="0.18" >PolII</text></svg>
</body></html>
